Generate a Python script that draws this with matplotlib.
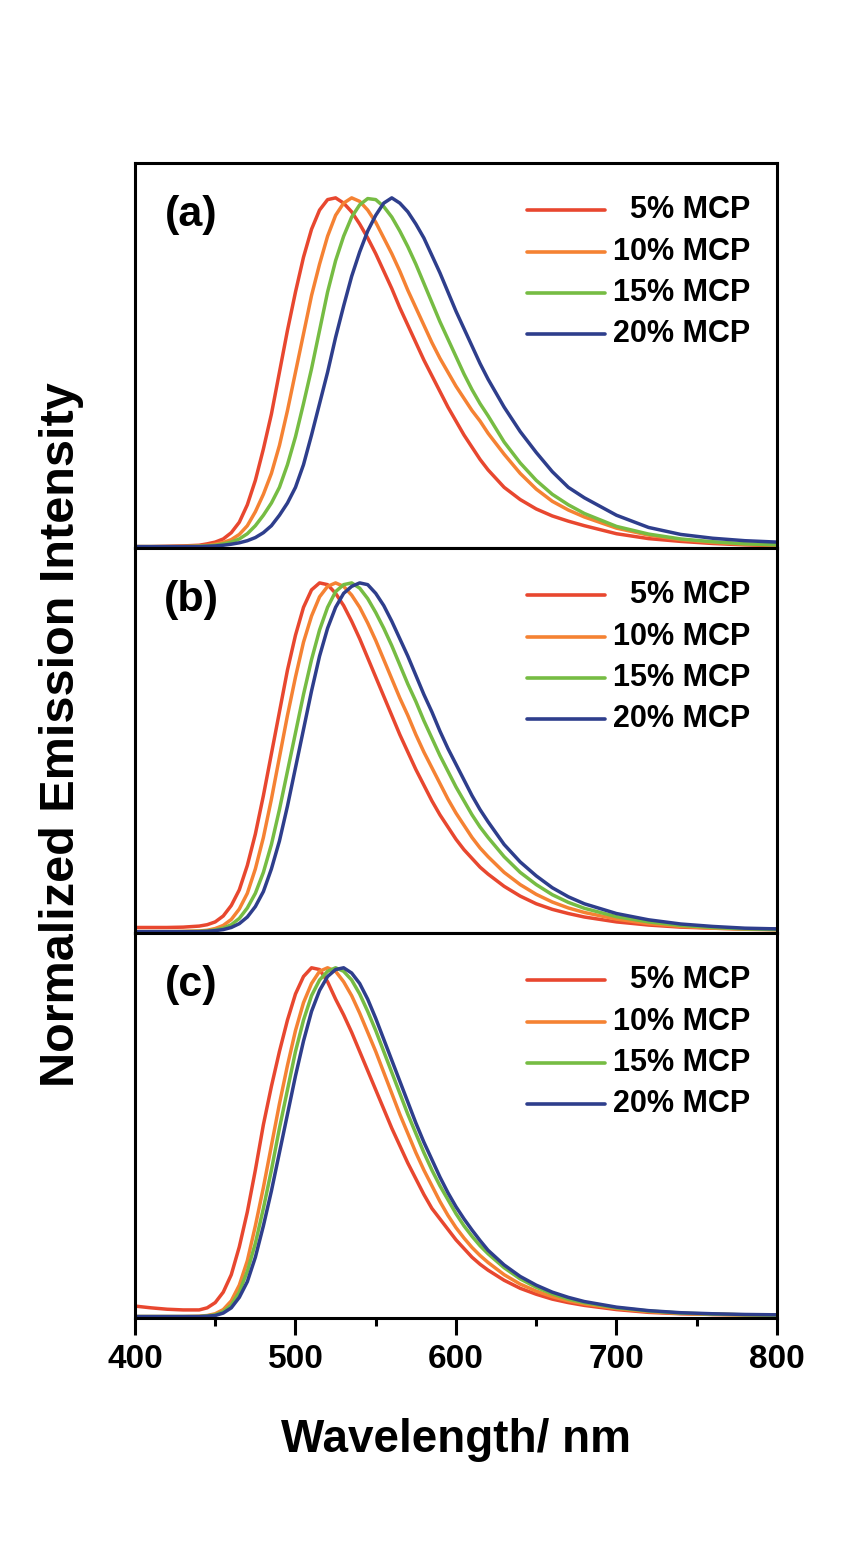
import matplotlib
matplotlib.use("Agg")
import matplotlib.pyplot as plt
from matplotlib.ticker import MultipleLocator

plt.rcParams["font.family"] = ["Liberation Sans", "DejaVu Sans"]
plt.rcParams["font.weight"] = "bold"

# wavelength grid (nm)
wl = [400, 410, 420, 430,
      440, 445, 450, 455, 460, 465, 470, 475, 480, 485, 490, 495, 500, 505, 510, 515, 520, 525, 530,
      535, 540, 545, 550, 555, 560, 565, 570, 575, 580, 585, 590, 595, 600, 605, 610, 615, 620,
      630, 640, 650, 660, 670, 680,
      700, 720, 740, 760, 780, 800]

labels = ["5% MCP", "10% MCP", "15% MCP", "20% MCP"]
colors = ["#E8472F", "#F58233", "#76BC43", "#2E3E8C"]

# panel (a)
red_a = [0.0, 0.0, 0.001, 0.002,
         0.004, 0.008, 0.013, 0.022, 0.04, 0.07, 0.12, 0.19, 0.28, 0.38, 0.50, 0.62, 0.73, 0.83, 0.91, 0.965, 0.995, 1.0, 0.985,
         0.96, 0.925, 0.885, 0.84, 0.79, 0.74, 0.685, 0.635, 0.585, 0.535, 0.49, 0.445, 0.40, 0.36, 0.32, 0.285, 0.25, 0.22,
         0.17, 0.135, 0.108, 0.088, 0.073, 0.06,
         0.037, 0.023, 0.015, 0.009, 0.005, 0.003]
orange_a = [0.0, 0.0, 0.0, 0.001,
            0.002, 0.004, 0.007, 0.012, 0.02, 0.035, 0.06, 0.10, 0.15, 0.21, 0.29, 0.39, 0.50, 0.61, 0.72, 0.81, 0.89, 0.95, 0.985,
            1.0, 0.99, 0.965, 0.93, 0.885, 0.84, 0.79, 0.735, 0.685, 0.635, 0.585, 0.54, 0.50, 0.46, 0.425, 0.39, 0.36, 0.325,
            0.265, 0.21, 0.165, 0.13, 0.105, 0.085,
            0.053, 0.033, 0.02, 0.012, 0.007, 0.004]
green_a = [0.0, 0.0, 0.0, 0.0,
           0.001, 0.002, 0.004, 0.008, 0.013, 0.022, 0.037, 0.06, 0.09, 0.125, 0.17, 0.235, 0.315, 0.41, 0.51, 0.62, 0.73, 0.82, 0.89,
           0.945, 0.98, 0.998, 0.995, 0.975, 0.945, 0.905, 0.86, 0.81, 0.755, 0.70, 0.645, 0.595, 0.545, 0.495, 0.45, 0.41, 0.375,
           0.30, 0.24, 0.19, 0.15, 0.12, 0.095,
           0.058, 0.036, 0.022, 0.014, 0.008, 0.005]
blue_a = [0.0, 0.0, 0.0, 0.0,
          0.0, 0.001, 0.002, 0.004, 0.007, 0.011, 0.017, 0.026, 0.04, 0.06, 0.09, 0.125, 0.17, 0.235, 0.32, 0.41, 0.50, 0.60, 0.69,
          0.775, 0.845, 0.905, 0.95, 0.985, 1.0, 0.985, 0.96, 0.925, 0.885, 0.835, 0.785, 0.73, 0.675, 0.625, 0.575, 0.525, 0.48,
          0.40, 0.33, 0.27, 0.215, 0.17, 0.14,
          0.09, 0.055, 0.035, 0.024, 0.017, 0.013]

# panel (b)
red_b = [0.012, 0.012, 0.012, 0.013,
         0.016, 0.02, 0.028, 0.045, 0.075, 0.12, 0.19, 0.28, 0.39, 0.51, 0.63, 0.75, 0.85, 0.93, 0.98, 1.0, 0.995, 0.97, 0.935,
         0.89, 0.84, 0.785, 0.73, 0.675, 0.62, 0.565, 0.515, 0.465, 0.42, 0.375, 0.335, 0.30, 0.265, 0.235, 0.21, 0.185, 0.165,
         0.13, 0.102, 0.08, 0.064, 0.052, 0.042,
         0.028, 0.019, 0.013, 0.01, 0.008, 0.007]
orange_b = [0.0, 0.0, 0.0, 0.001,
            0.002, 0.004, 0.009, 0.018, 0.035, 0.065, 0.11, 0.18, 0.27, 0.38, 0.50, 0.62, 0.73, 0.83, 0.905, 0.96, 0.99, 1.0, 0.99,
            0.965, 0.93, 0.885, 0.835, 0.78, 0.725, 0.67, 0.62, 0.565, 0.515, 0.47, 0.425, 0.38, 0.34, 0.305, 0.27, 0.24, 0.215,
            0.17, 0.135, 0.107, 0.085, 0.068, 0.055,
            0.036, 0.023, 0.015, 0.01, 0.007, 0.005]
green_b = [0.0, 0.0, 0.0, 0.0,
           0.001, 0.002, 0.005, 0.01, 0.02, 0.038, 0.068, 0.11, 0.17, 0.25, 0.35, 0.46, 0.57, 0.68, 0.78, 0.865, 0.93, 0.975, 0.995,
           1.0, 0.985, 0.955, 0.915, 0.87, 0.82, 0.765, 0.71, 0.66, 0.605, 0.555, 0.505, 0.46, 0.415, 0.375, 0.335, 0.30, 0.27,
           0.215, 0.17, 0.135, 0.106, 0.084, 0.067,
           0.043, 0.028, 0.018, 0.012, 0.008, 0.006]
blue_b = [0.0, 0.0, 0.0, 0.0,
          0.0, 0.001, 0.003, 0.006, 0.012, 0.023, 0.042, 0.072, 0.115, 0.18, 0.26, 0.36, 0.47, 0.58, 0.69, 0.79, 0.87, 0.93, 0.97,
          0.99, 1.0, 0.995, 0.97, 0.935, 0.89, 0.84, 0.79, 0.735, 0.68, 0.63, 0.575, 0.525, 0.48, 0.435, 0.39, 0.35, 0.315,
          0.25, 0.20, 0.16, 0.126, 0.10, 0.08,
          0.052, 0.034, 0.022, 0.015, 0.01, 0.008]

# panel (c)
red_c = [0.03, 0.025, 0.021, 0.019,
         0.019, 0.025, 0.04, 0.07, 0.12, 0.20, 0.30, 0.42, 0.55, 0.66, 0.76, 0.85, 0.925, 0.975, 1.0, 0.995, 0.96, 0.91, 0.865,
         0.815, 0.76, 0.705, 0.65, 0.595, 0.54, 0.49, 0.44, 0.395, 0.35, 0.31, 0.28, 0.25, 0.22, 0.195, 0.17, 0.15, 0.133,
         0.104, 0.081, 0.064, 0.05, 0.04, 0.032,
         0.02, 0.012, 0.008, 0.006, 0.005, 0.004]
orange_c = [0.0, 0.0, 0.0, 0.0,
            0.001, 0.003, 0.008, 0.02, 0.045, 0.09, 0.16, 0.26, 0.37, 0.49, 0.61, 0.72, 0.82, 0.90, 0.955, 0.99, 1.0, 0.99, 0.96,
            0.92, 0.87, 0.815, 0.76, 0.70, 0.64, 0.58, 0.525, 0.47, 0.42, 0.375, 0.33, 0.29, 0.255, 0.225, 0.198, 0.175, 0.155,
            0.12, 0.093, 0.073, 0.057, 0.045, 0.036,
            0.023, 0.014, 0.009, 0.006, 0.005, 0.004]
green_c = [0.0, 0.0, 0.0, 0.0,
           0.0, 0.002, 0.005, 0.014, 0.033, 0.07, 0.13, 0.21, 0.31, 0.42, 0.54, 0.65, 0.76, 0.85, 0.92, 0.965, 0.99, 1.0, 0.99,
           0.965, 0.925, 0.875, 0.82, 0.76, 0.70, 0.64, 0.58, 0.525, 0.47, 0.42, 0.375, 0.335, 0.295, 0.26, 0.23, 0.203, 0.18,
           0.14, 0.108, 0.084, 0.065, 0.05, 0.04,
           0.025, 0.016, 0.01, 0.007, 0.005, 0.004]
blue_c = [0.0, 0.0, 0.0, 0.0,
          0.0, 0.001, 0.003, 0.01, 0.025, 0.055, 0.10, 0.17, 0.26, 0.36, 0.47, 0.58, 0.69, 0.79, 0.875, 0.935, 0.975, 0.995, 1.0,
          0.985, 0.955, 0.91, 0.855, 0.795, 0.735, 0.675, 0.615, 0.555, 0.50, 0.45, 0.40, 0.355, 0.315, 0.28, 0.248, 0.218, 0.19,
          0.148, 0.115, 0.09, 0.07, 0.055, 0.043,
          0.027, 0.017, 0.011, 0.008, 0.006, 0.005]

panels = [
    ("(a)", [red_a, orange_a, green_a, blue_a]),
    ("(b)", [red_b, orange_b, green_b, blue_b]),
    ("(c)", [red_c, orange_c, green_c, blue_c]),
]

fig = plt.figure(figsize=(8.5, 15.42), dpi=100)
left, width, height = 0.1588, 0.7553, 0.2497
bottoms = [0.6446, 0.3949, 0.1453]
legend_y = [0.878, 0.769, 0.662, 0.556]

for i, (tag, series) in enumerate(panels):
    ax = fig.add_axes([left, bottoms[i], width, height])
    for ys, c in zip(series, colors):
        ax.plot(wl, ys, color=c, lw=2.5, solid_joinstyle="round")
    ax.set_xlim(400, 800)
    ax.set_ylim(-0.004, 1.10)
    for s in ax.spines.values():
        s.set_linewidth(2.2)
    ax.text(0.088, 0.865, tag, transform=ax.transAxes, fontsize=31,
            fontweight="bold", ha="center", va="center")
    # legend: short lines on the left, labels right-aligned
    for lab, c, yy in zip(labels, colors, legend_y):
        ax.plot([0.611, 0.732], [yy, yy], transform=ax.transAxes, color=c,
                lw=2.6, solid_capstyle="round")
        ax.text(0.958, yy, lab, transform=ax.transAxes, fontsize=22,
                fontweight="bold", ha="right", va="center")
    ax.set_yticks([])
    if i < 2:
        ax.tick_params(bottom=False, labelbottom=False)
    else:
        ax.xaxis.set_major_locator(MultipleLocator(100))
        ax.xaxis.set_minor_locator(MultipleLocator(50))
        ax.tick_params(axis="x", which="major", direction="out", length=12,
                       width=2.2, labelsize=24, pad=7)
        ax.tick_params(axis="x", which="minor", direction="out", length=6,
                       width=2.2)
        for t in ax.get_xticklabels():
            t.set_fontweight("bold")

fig.text(0.5365, 0.0584, "Wavelength/ nm", fontsize=33, fontweight="bold",
         ha="center", va="baseline")
fig.text(0.072, 0.5233, "Normalized Emission Intensity", fontsize=35,
         fontweight="bold", rotation=90, ha="center", va="center")

fig.savefig("out.png", dpi=100)
